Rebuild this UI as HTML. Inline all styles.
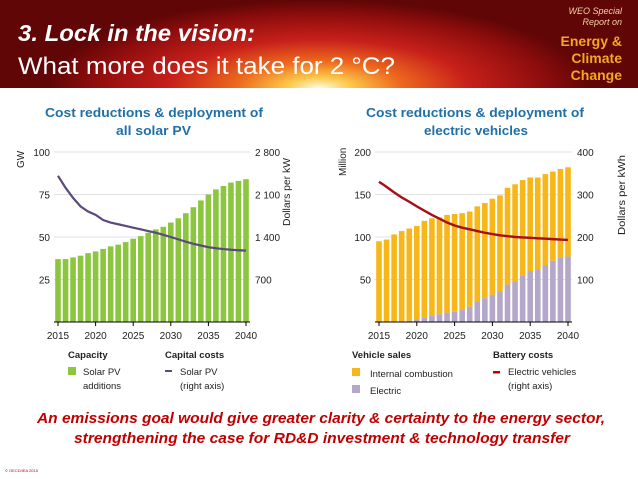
<!DOCTYPE html>
<html><head><meta charset="utf-8"><style>
html,body{margin:0;padding:0;width:638px;height:479px;overflow:hidden;background:#fff;font-family:"Liberation Sans",sans-serif}
svg text{font-family:"Liberation Sans",sans-serif}
</style></head><body>
<svg id="s" width="638" height="479" viewBox="0 0 638 479">
<defs>
<radialGradient id="hg" cx="0.5" cy="1.0" r="0.5" fx="0.5" fy="1.0" gradientTransform="translate(0.5 1) scale(0.85 2.0) translate(-0.5 -1)">
<stop offset="0" stop-color="#fffbe0"/><stop offset="0.12" stop-color="#fcc84a"/><stop offset="0.3" stop-color="#ee6a1e"/><stop offset="0.55" stop-color="#c7201a"/><stop offset="0.85" stop-color="#8a0c0c"/><stop offset="1" stop-color="#600606"/>
</radialGradient>
</defs>
<rect x="0" y="0" width="638" height="88" fill="#600606"/>
<rect x="0" y="0" width="638" height="88" fill="url(#hg)"/>
<text x="18" y="41" fill="#fff" font-size="23" font-weight="bold" font-style="italic" textLength="237" lengthAdjust="spacingAndGlyphs">3. Lock in the vision:</text>
<text x="18" y="74" fill="#fff" font-size="24" textLength="377" lengthAdjust="spacingAndGlyphs">What more does it take for 2 °C?</text>
<text x="622" y="14" fill="#f4d2a8" font-size="9" font-style="italic" text-anchor="end" font-family="Liberation Serif">WEO Special</text>
<text x="622" y="25" fill="#f4d2a8" font-size="9" font-style="italic" text-anchor="end">Report on</text>
<text x="622" y="46" fill="#f6a623" font-size="14" font-weight="bold" text-anchor="end" font-family="Liberation Serif">Energy &amp;</text>
<text x="622" y="63" fill="#f6a623" font-size="14" font-weight="bold" text-anchor="end" font-family="Liberation Serif">Climate</text>
<text x="622" y="80" fill="#f6a623" font-size="14" font-weight="bold" text-anchor="end" font-family="Liberation Serif">Change</text>

<text x="45" y="117" fill="#1f6fa8" font-size="12.5" font-weight="bold" textLength="218" lengthAdjust="spacingAndGlyphs">Cost reductions &amp; deployment of</text>
<text x="116" y="135" fill="#1f6fa8" font-size="12.5" font-weight="bold" textLength="75" lengthAdjust="spacingAndGlyphs">all solar PV</text>
<text x="366" y="117" fill="#1f6fa8" font-size="12.5" font-weight="bold" textLength="218" lengthAdjust="spacingAndGlyphs">Cost reductions &amp; deployment of</text>
<text x="424" y="135" fill="#1f6fa8" font-size="12.5" font-weight="bold" textLength="104" lengthAdjust="spacingAndGlyphs">electric vehicles</text>

<g id="L"></g><g id="R"></g>

<text x="37" y="423" fill="#c00000" font-size="15" font-weight="bold" font-style="italic" textLength="568" lengthAdjust="spacingAndGlyphs">An emissions goal would give greater clarity &amp; certainty to the energy sector,</text>
<text x="74" y="443" fill="#c00000" font-size="15" font-weight="bold" font-style="italic" textLength="496" lengthAdjust="spacingAndGlyphs">strengthening the case for RD&amp;D investment &amp; technology transfer</text>
<text x="5" y="472" fill="#c00000" font-size="4">© OECD/IEA 2015</text>
</svg>
<script>
const years=[2015,2016,2017,2018,2019,2020,2021,2022,2023,2024,2025,2026,2027,2028,2029,2030,2031,2032,2033,2034,2035,2036,2037,2038,2039,2040];
const solarAdditions=[37,37,38,39,40.5,41.5,43,44.5,45.5,47,49,50.5,52.5,54.5,56,58.5,61,64,67.5,71.5,75,78,80,82,83,84];
const solarCost=[2408,2212,2044,1904,1820,1764,1680,1638,1610,1582,1554,1526,1498,1470,1436,1400,1361,1322,1288,1260,1232,1215,1201,1190,1182,1176];
const iceSales=[95,97,102.5,106,108.5,110,114,115,114,115,115,114,112,112,112,113,113,114,114,112,110,108,107,105,104,105];
const evSales=[0,0,0.5,1,1.5,3,5,7,9,11,12,14,18,24,28,32,36,44,48,55,60,62,67,72,76,77];
const evBatteryCost=[330,318,305,293,283,272,262,252,243,234,227,222,218,214,210,207,204,202,200,199,198,197,196,195,194,193];
const leftTicks=[25,50,75,100];const leftRTicks=["700","1 400","2 100","2 800"];
const rightTicks=[50,100,150,200];const rightRTicks=["100","200","300","400"];
const xTicks=[2015,2020,2025,2030,2035,2040];
const NS="http://www.w3.org/2000/svg";
function mk(p,t,a,txt){const e=document.createElementNS(NS,t);for(const k in a)e.setAttribute(k,a[k]);if(txt!=null)e.textContent=txt;p.appendChild(e);return e;}
function chart(g,x0,x1,yMax,rMax,ticks,rticks){
 const y0=322,yT=152;
 const x=yr=>x0+(yr-2015)*(x1-x0)/25;
 const y=v=>y0-v*(y0-yT)/yMax;
 const yr=v=>y0-v*(y0-yT)/rMax;
 ticks.forEach((t,i)=>{
  const gl=mk(g,'line',{x1:x0-4,x2:x1+4,y1:y(t),y2:y(t),stroke:'#d9d9d9','stroke-width':0.8});
  
  const tl=mk(g,'text',{x:x0-8,y:y(t)+4,'font-size':10,'text-anchor':'end',fill:'#222'},String(t));
  
  const tr=mk(g,'text',{x:x1+9,y:y(t)+4,'font-size':10,fill:'#222'},rticks[i]);
  
 });
 return {x,y,yr,y0};
}
const L=document.getElementById('L');
const a=chart(L,58,246,100,2800,leftTicks,leftRTicks);
solarAdditions.forEach((v,i)=>{const b=mk(L,'rect',{x:a.x(years[i])-2.8,y:a.y(v),width:5.6,height:a.y0-a.y(v),fill:'#8cc63f'});
 });
let pl=mk(L,'polyline',{points:solarCost.map((v,i)=>a.x(years[i])+','+a.yr(v)).join(' '),fill:'none',stroke:'#5b4a7a','stroke-width':2.2});

const R=document.getElementById('R');
const c=chart(R,379,568,200,400,rightTicks,rightRTicks);
years.forEach((yv,i)=>{
 const tot=iceSales[i]+evSales[i];
 const b1=mk(R,'rect',{x:c.x(yv)-2.8,y:c.y(tot),width:5.6,height:c.y(evSales[i])-c.y(tot),fill:'#f7b718'});
 
 const b2=mk(R,'rect',{x:c.x(yv)-2.8,y:c.y(evSales[i]),width:5.6,height:c.y0-c.y(evSales[i]),fill:'#b4a7c9'});
 
});
pl=mk(R,'polyline',{points:evBatteryCost.map((v,i)=>c.x(years[i])+','+c.yr(v)).join(' '),fill:'none',stroke:'#a50f15','stroke-width':2.4});

[[L,a],[R,c]].forEach(([g,s])=>{
 const ax=mk(g,'line',{x1:s.x(2015)-4,x2:s.x(2040)+4,y1:322,y2:322,stroke:'#000','stroke-width':1});
 
 xTicks.forEach(t=>{const tk=mk(g,'line',{x1:s.x(t),x2:s.x(t),y1:322,y2:326,stroke:'#000'});
  
  const tl=mk(g,'text',{x:s.x(t),y:339,'font-size':10,'text-anchor':'middle',fill:'#222'},String(t));
  });
});
function lab(g,x,y,txt,name,rot,opts){const e=mk(g,'text',Object.assign({x:x,y:y,'font-size':10,fill:'#222'},opts||{}),txt);
 if(rot)e.setAttribute('transform','rotate(-90 '+x+' '+y+')');
 return e;}
lab(L,24,168,'GW','left-y-axis-title',true);
lab(L,290,226,'Dollars per kW','left-y2-axis-title',true,{textLength:68,lengthAdjust:'spacingAndGlyphs'});
lab(R,346,176,'Million','right-y-axis-title',true);
lab(R,625,235,'Dollars per kWh','right-y2-axis-title',true,{textLength:80,lengthAdjust:'spacingAndGlyphs'});
lab(L,68,358,'Capacity','legend-title-capacity',false,{'font-weight':'bold','font-size':9.5});
lab(L,165,358,'Capital costs','legend-title-capital',false,{'font-weight':'bold','font-size':9.5});
let sw=mk(L,'rect',{x:68,y:367,width:8,height:8,fill:'#8cc63f'});
lab(L,83,375,'Solar PV','legend-solar-additions',false,{'font-size':9.5});lab(L,83,389,'additions','legend-solar-additions-2',false,{'font-size':9.5});
sw=mk(L,'rect',{x:165,y:370,width:7,height:2,fill:'#5b4a7a'});
lab(L,180,375,'Solar PV','legend-solar-cost',false,{'font-size':9.5});lab(L,180,389,'(right axis)','legend-solar-cost-2',false,{'font-size':9.5});
lab(R,352,358,'Vehicle sales','legend-title-vehicle',false,{'font-weight':'bold','font-size':9.5});
lab(R,493,358,'Battery costs','legend-title-battery',false,{'font-weight':'bold','font-size':9.5});
sw=mk(R,'rect',{x:352,y:368,width:8,height:8,fill:'#f7b718'});
lab(R,370,377,'Internal combustion','legend-ice',false,{'font-size':9.5});
sw=mk(R,'rect',{x:352,y:385,width:8,height:8,fill:'#b4a7c9'});
lab(R,370,394,'Electric','legend-ev',false,{'font-size':9.5});
sw=mk(R,'rect',{x:493,y:371,width:7,height:2.5,fill:'#c00000'});
lab(R,508,375,'Electric vehicles','legend-battery',false,{'font-size':9.5});lab(R,508,389,'(right axis)','legend-battery-2',false,{'font-size':9.5});
</script>
</body></html>
